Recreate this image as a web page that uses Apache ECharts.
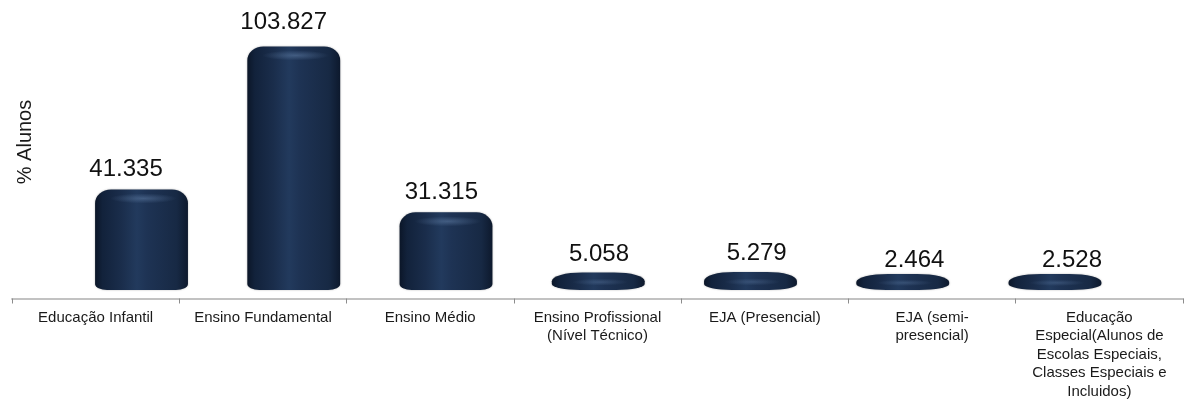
<!DOCTYPE html>
<html>
<head>
<meta charset="utf-8">
<script src="https://cdn.jsdelivr.net/npm/echarts@6/dist/echarts.min.js"></script>
<style>
  html, body { margin: 0; padding: 0; background: #ffffff; }
  #chart { width: 1185px; height: 401px; }
</style>
</head>
<body>
<div id="chart"></div>
<script>
// Matrículas por etapa de ensino
const categories = [
  'Educação Infantil',
  'Ensino Fundamental',
  'Ensino Médio',
  'Ensino Profissional\n(Nível Técnico)',
  'EJA (Presencial)',
  'EJA (semi-\npresencial)',
  'Educação\nEspecial(Alunos de\nEscolas Especiais,\nClasses Especiais e\nIncluidos)'
];
const alunos = [41.335, 103.827, 31.315, 5.058, 5.279, 2.464, 2.528];
const axisName = '% Alunos';

const FONT = '"Liberation Sans", Arial, Helvetica, sans-serif';
const pairs = alunos.map((v, i) => [i, v]);

// Rounded cylinder outline with elliptical corners; short ones become lens-like discs
function cylinderPath(x0, x1, yt, yb) {
  const h = yb - yt;
  const w = x1 - x0;
  const flat = Math.max(0, Math.min(1, (32 - h) / 16));
  const rxT = Math.min(w * 0.45, 16 + flat * 16);
  const ryT = Math.min(14, h / 2);
  const rxB = Math.min(w * 0.45, 12 + flat * 18);
  const ryB = Math.min(6, h / 2);
  return [
    'M', x0, yt + ryT,
    'A', rxT, ryT, 0, 0, 1, x0 + rxT, yt,
    'L', x1 - rxT, yt,
    'A', rxT, ryT, 0, 0, 1, x1, yt + ryT,
    'L', x1, yb - ryB,
    'A', rxB, ryB, 0, 0, 1, x1 - rxB, yb,
    'L', x0 + rxB, yb,
    'A', rxB, ryB, 0, 0, 1, x0, yb - ryB,
    'Z'
  ].join(' ');
}

const bodyFill = new echarts.graphic.LinearGradient(0, 0, 1, 0, [
  { offset: 0.00, color: '#0b1628' },
  { offset: 0.08, color: '#12223b' },
  { offset: 0.28, color: '#1a2d4b' },
  { offset: 0.45, color: '#223a5d' },
  { offset: 0.56, color: '#1e3354' },
  { offset: 0.88, color: '#172944' },
  { offset: 1.00, color: '#0d192d' }
]);

function sheen(alpha) {
  return new echarts.graphic.RadialGradient(0.5, 0.5, 0.5, [
    { offset: 0, color: 'rgba(100,130,170,' + alpha + ')' },
    { offset: 1, color: 'rgba(100,130,170,0)' }
  ]);
}

const chart = echarts.init(document.getElementById('chart'), null, { renderer: 'canvas' });

chart.setOption({
  backgroundColor: '#ffffff',
  animation: false,
  grid: [
    { left: 12, right: 2, top: 38, bottom: 101 },
    { left: 65.4, right: 53.9, top: 35.3, bottom: 114 },
    { left: 47.2, right: 34.2, top: 19.5, bottom: 122.8 }
  ],
  xAxis: [
    {
      gridIndex: 0,
      type: 'category',
      data: categories,
      axisLine: { lineStyle: { color: '#c2c2c2', width: 2 } },
      axisTick: { show: true, length: 5, lineStyle: { color: '#8c8c8c', width: 1 } },
      axisLabel: {
        interval: 0,
        margin: 10,
        color: '#1a1a1a',
        fontFamily: FONT,
        fontSize: 15,
        lineHeight: 18.5,
        align: 'center'
      }
    },
    { gridIndex: 1, type: 'category', data: categories, show: false },
    { gridIndex: 2, type: 'category', data: categories, show: false }
  ],
  yAxis: [
    { gridIndex: 0, type: 'value', min: 0, max: 110, show: false },
    { gridIndex: 1, type: 'value', min: 0, max: 110, show: false },
    { gridIndex: 2, type: 'value', min: 0, max: 110, show: false }
  ],
  graphic: [
    {
      type: 'text',
      x: 25,
      y: 142,
      rotation: Math.PI / 2,
      style: {
        text: axisName,
        font: '20px ' + FONT,
        fill: '#1a1a1a',
        align: 'center',
        verticalAlign: 'middle'
      }
    }
  ],
  series: [
    {
      type: 'custom',
      name: 'Alunos',
      xAxisIndex: 1,
      yAxisIndex: 1,
      data: pairs,
      renderItem: function (params, api) {
        const i = api.value(0);
        const v = api.value(1);
        const topPt = api.coord([i, v]);
        const basePt = api.coord([i, 0]);
        const band = api.size([1, 0])[0];
        const w = band * 0.61;
        const cx = topPt[0];
        const x0 = cx - w / 2, x1 = cx + w / 2;
        const yb = basePt[1] + 3;
        const yt = Math.min(topPt[1] - 3, yb - 16);
        const h = yb - yt;
        const tall = h > 30;
        const r = tall ? 5 : Math.max(2, h * 0.2);
        return {
          type: 'group',
          children: [
            {
              type: 'path',
              shape: { pathData: cylinderPath(x0, x1, yt, yb) },
              style: {
                fill: bodyFill,
                shadowBlur: 2,
                shadowColor: 'rgba(0,0,0,0.3)'
              }
            },
            {
              // soft sheen: a round highlight stretched sideways
              type: 'circle',
              x: cx + w * 0.02,
              y: tall ? yt + 9 : yt + h * 0.55,
              scaleX: (w * (tall ? 0.36 : 0.3)) / r,
              shape: { cx: 0, cy: 0, r: r },
              style: { fill: sheen(tall ? 0.5 : 0.35) },
              silent: true
            }
          ]
        };
      }
    },
    {
      type: 'custom',
      name: 'Rótulos',
      xAxisIndex: 2,
      yAxisIndex: 2,
      data: pairs,
      silent: true,
      renderItem: function (params, api) {
        const i = api.value(0);
        const v = api.value(1);
        const pt = api.coord([i, v]);
        return {
          type: 'text',
          x: pt[0],
          y: pt[1],
          style: {
            text: v.toFixed(3),
            font: '24px ' + FONT,
            fill: '#111111',
            align: 'center',
            verticalAlign: 'bottom'
          }
        };
      }
    }
  ]
});
</script>
</body>
</html>
